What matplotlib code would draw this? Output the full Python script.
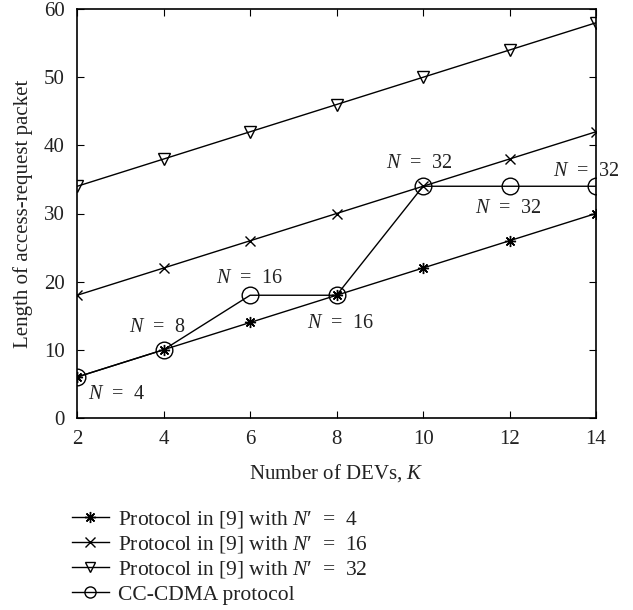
import numpy as np
import matplotlib.pyplot as plt
from matplotlib.lines import Line2D

plt.rcParams['font.family'] = 'Liberation Serif'
plt.rcParams['mathtext.fontset'] = 'custom'
plt.rcParams['mathtext.rm'] = 'Liberation Serif'
plt.rcParams['mathtext.it'] = 'Liberation Serif:italic'
plt.rcParams['font.size'] = 15
plt.rcParams['text.color'] = '#222222'
plt.rcParams['xtick.labelcolor'] = '#222222'
plt.rcParams['ytick.labelcolor'] = '#222222'
plt.rcParams['axes.labelcolor'] = '#222222'

K = [2, 4, 6, 8, 10, 12, 14]
proto_n4 = [6, 10, 14, 18, 22, 26, 30]
proto_n16 = [18, 22, 26, 30, 34, 38, 42]
proto_n32 = [34, 38, 42, 46, 50, 54, 58]
cc_cdma = [6, 10, 18, 18, 34, 34, 34]

labels = ["Protocol in [9] with $N$\u2032  =  4",
          "Protocol in [9] with $N$\u2032  =  16",
          "Protocol in [9] with $N$\u2032  =  32",
          "CC-CDMA protocol"]

# (text, x, y) for the N annotations on the CC-CDMA curve
notes = [("$N$  =  4", 2.91, 3.4),
         ("$N$  =  8", 3.84, 13.2),
         ("$N$  =  16", 5.99, 20.5),
         ("$N$  =  16", 8.08, 13.9),
         ("$N$  =  32", 9.9, 37.4),
         ("$N$  =  32", 11.97, 30.8),
         ("$N$  =  32", 13.77, 36.2)]

fig = plt.figure(figsize=(6.33, 6.10), dpi=100)
ax = fig.add_axes([0.122, 0.315, 0.8195, 0.67])

lw = 1.0
styles = [dict(marker=(8, 2, 0), ms=8),
          dict(marker='x', ms=7),
          dict(marker='v', ms=8, mfc='none'),
          dict(marker='o', ms=12, mfc='none')]
for ys, st in zip([proto_n4, proto_n16, proto_n32, cc_cdma], styles):
    ax.plot(K, ys, color='black', lw=lw, mew=1.0, **st)

for txt, x, y in notes:
    ax.text(x, y, txt, ha='center', va='center', fontsize=14.5)

ax.set_xlim(2, 14)
ax.set_ylim(0, 60)
ax.set_xticks(K)
ax.set_yticks(range(0, 61, 10))
ax.tick_params(direction='in', top=True, right=True, length=5, pad=9)
for s in ax.spines.values():
    s.set_linewidth(1.2)

ax.set_xlabel("Number of DEVs, $K$", labelpad=9)
ax.set_ylabel("Length of access-request packet", labelpad=8)

# legend handles: circle drawn a bit smaller than in the plot
leg_sizes = [8, 7, 7, 8]
handles = []
for st, sz in zip(styles, leg_sizes):
    st = dict(st)
    st['ms'] = sz
    handles.append(Line2D([], [], color='black', lw=lw, mew=1.0, **st))

fig.legend(handles, labels, loc='upper left',
           bbox_to_anchor=(0.100, 0.180), frameon=False,
           handlelength=1.7, handletextpad=0.45, labelspacing=0.2,
           borderaxespad=0, fontsize=15.5)

fig.savefig('out.png', dpi=100)
